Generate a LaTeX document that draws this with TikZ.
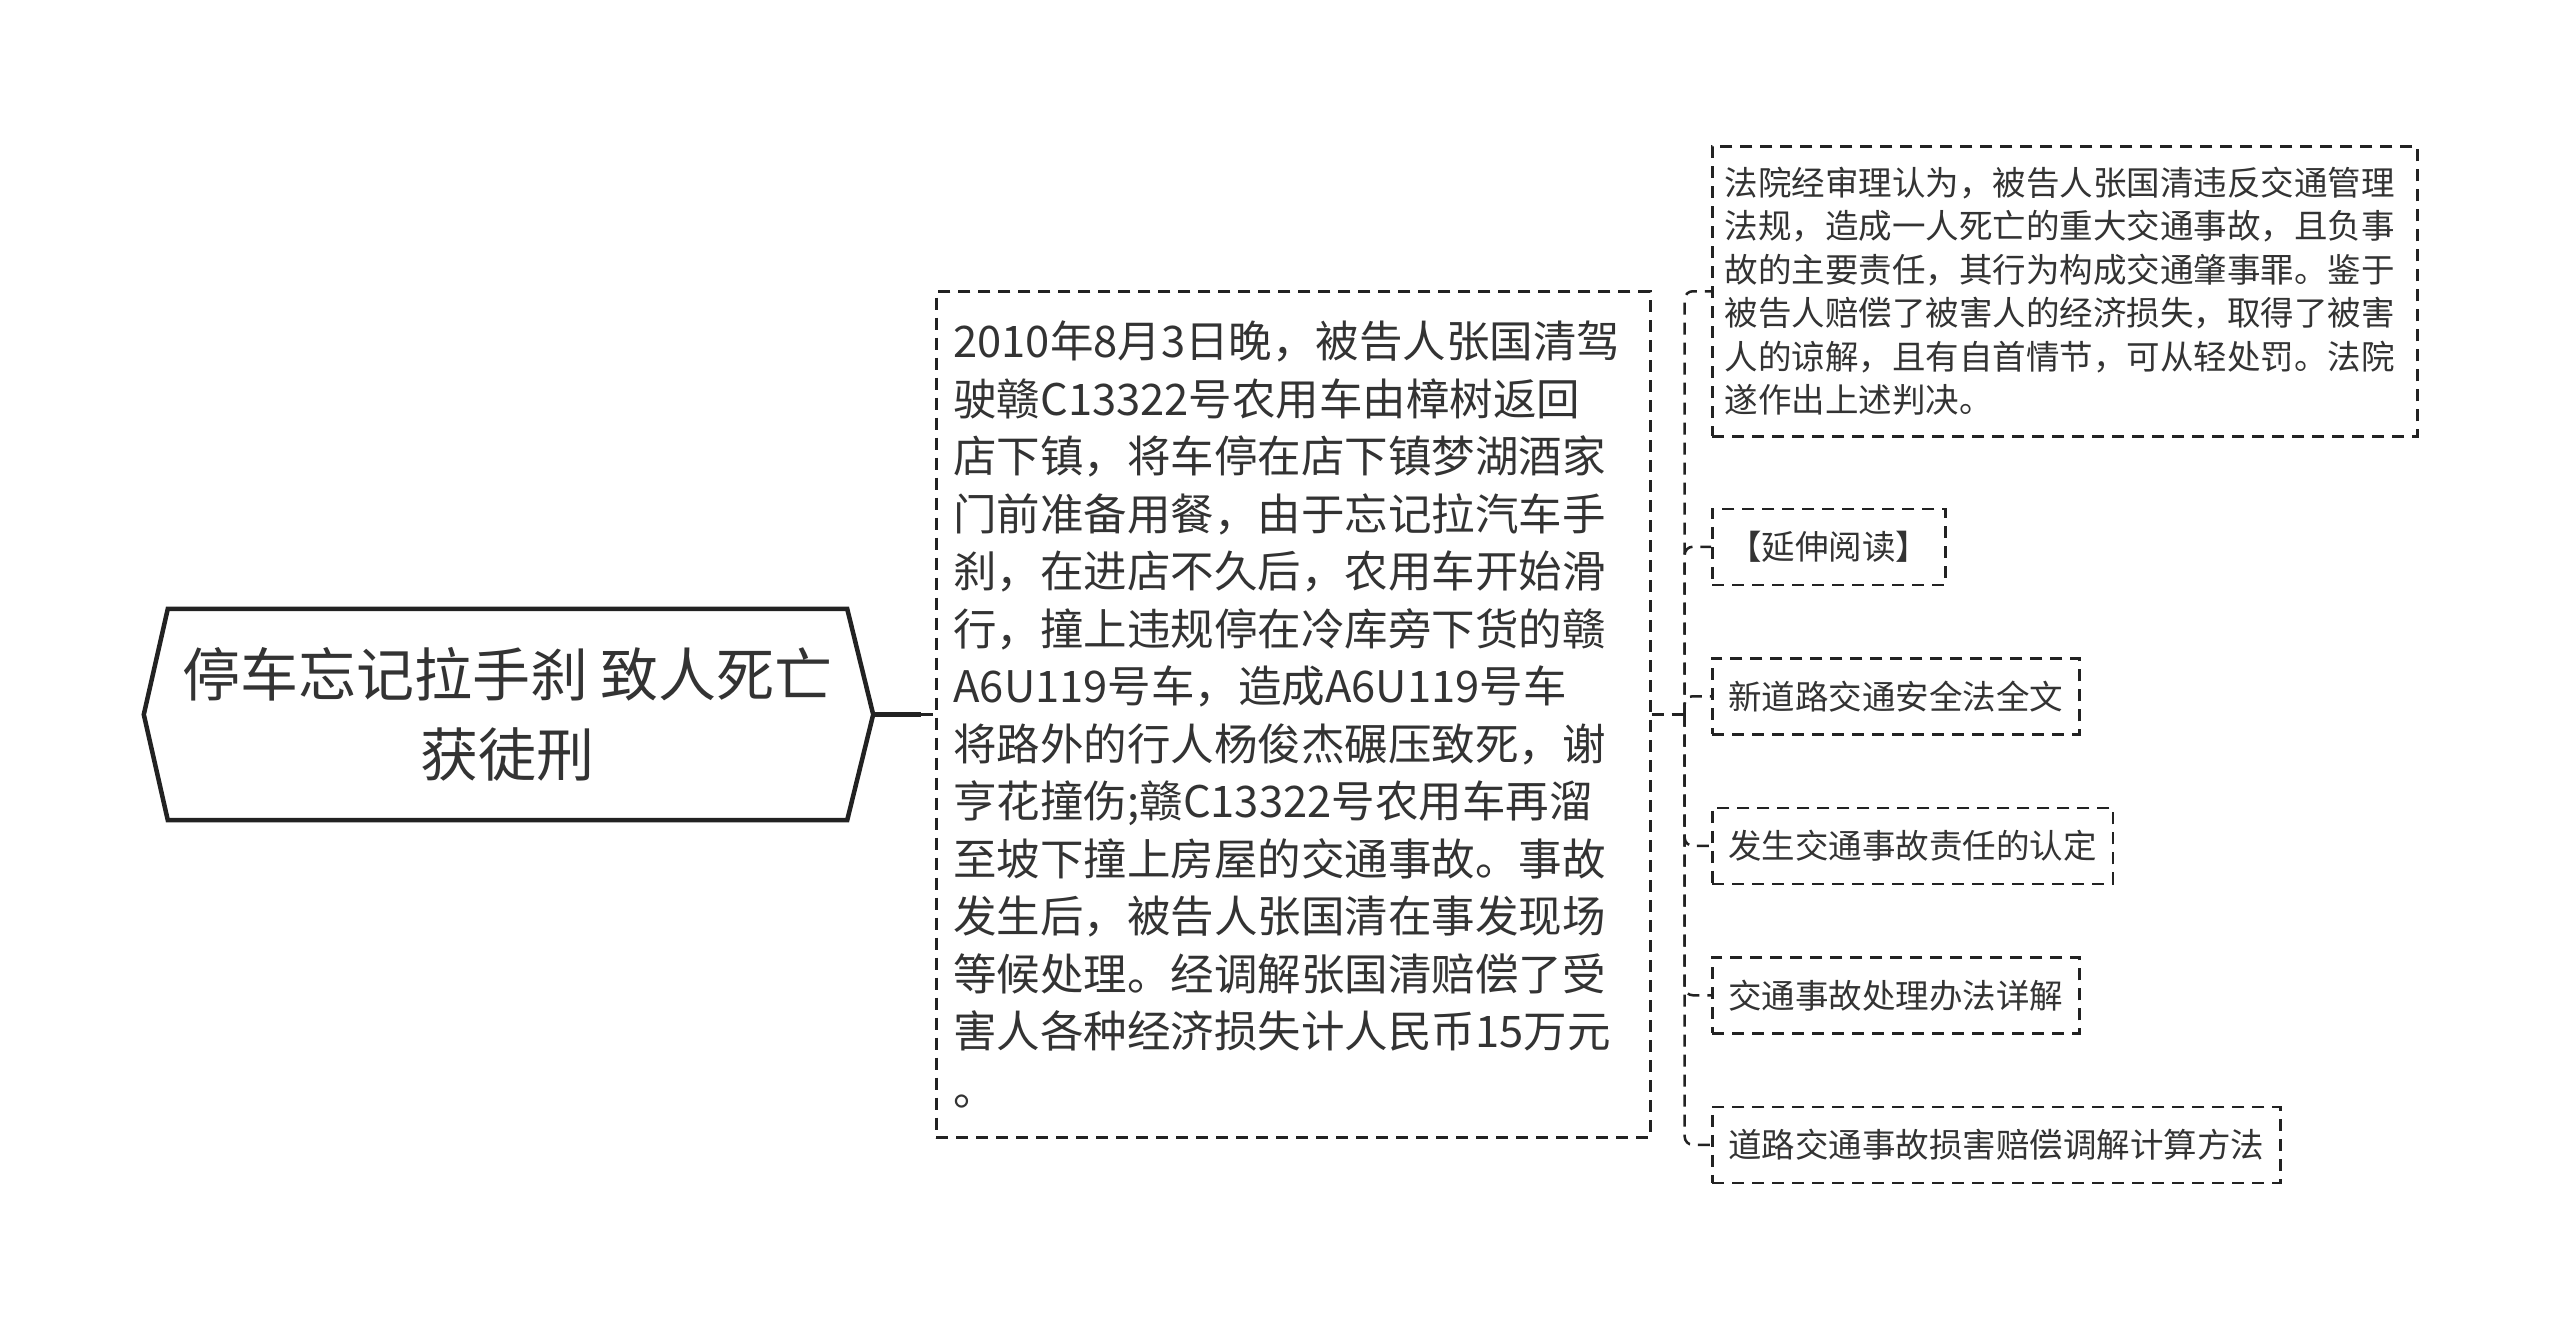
\documentclass[tikz,border=0pt]{standalone}
\usepackage{fontspec}
\setmainfont{Noto Sans CJK SC}
\usetikzlibrary{positioning}
\definecolor{ink}{HTML}{333333}
\definecolor{edge}{HTML}{222222}

\begin{document}
\begin{tikzpicture}[
  x=1pt, y=1pt,
  topic/.style={align=center, minimum width=679pt, minimum height=211pt, inner sep=0pt, text=ink, font=\fontsize{58pt}{80pt}\selectfont},
  rim/.style={draw=edge, line width=4.5pt, line join=miter},
  dashbox/.style={draw=edge, line width=2.5pt, dash pattern=on 12pt off 8pt, text=ink},
  mainbox/.style={dashbox, align=left, text width=680pt, minimum width=714pt, minimum height=846pt, inner xsep=17pt, inner ysep=0pt, font=\fontsize{43.5pt}{57.5pt}\selectfont},
  notebox/.style={dashbox, align=left, text width=680pt, minimum height=290pt, inner xsep=12.5pt, inner ysep=0pt, font=\fontsize{33.5pt}{43.4pt}\selectfont},
  linkbox/.style={dashbox, minimum height=76pt, inner xsep=16pt, inner ysep=0pt, font=\fontsize{33.5pt}{40pt}\selectfont},
  stem/.style={draw=edge, line width=4.5pt},
  link/.style={draw=edge, line width=2.5pt, dash pattern=on 12pt off 8pt, rounded corners=8pt}
]
\useasboundingbox[fill=white] (0,0) rectangle (2560,-1323);
\node[topic] (root) at (507.5,-714.5) {停车忘记拉手刹 致人死亡\\获徒刑};
\draw[rim] (root.north west) -- (root.north east) -- ([xshift=26pt]root.east) -- (root.south east) -- (root.south west) -- ([xshift=-24pt]root.west) -- cycle;
\node[mainbox, right=88pt of root] (main) {2010年8月3日晚，被告人张国清驾\\驶赣C13322号农用车由樟树返回\\店下镇，将车停在店下镇梦湖酒家\\门前准备用餐，由于忘记拉汽车手\\刹，在进店不久后，农用车开始滑\\行，撞上违规停在冷库旁下货的赣\\A6U119号车，造成A6U119号车\\将路外的行人杨俊杰碾压致死，谢\\亨花撞伤;赣C13322号农用车再溜\\至坡下撞上房屋的交通事故。事故\\发生后，被告人张国清在事发现场\\等候处理。经调解张国清赔偿了受\\害人各种经济损失计人民币15万元\\。};
\coordinate (tip) at ([xshift=26pt]root.east);
\coordinate (stub) at ([xshift=-14pt]main.west);
\draw[stem] (tip) -- (stub);
\draw[link] (stub) -- (main.west);
\node[notebox, anchor=north west] (kid1) at (1711,-145) {法院经审理认为，被告人张国清违反交通管理\\法规，造成一人死亡的重大交通事故，且负事\\故的主要责任，其行为构成交通肇事罪。鉴于\\被告人赔偿了被害人的经济损失，取得了被害\\人的谅解，且有自首情节，可从轻处罚。法院\\遂作出上述判决。};
\node[linkbox, below=70pt of kid1.south west, anchor=north west] (kid2) {【延伸阅读】};
\node[linkbox, below=71pt of kid2.south west, anchor=north west] (kid3) {新道路交通安全法全文};
\node[linkbox, below=71pt of kid3.south west, anchor=north west] (kid4) {发生交通事故责任的认定};
\node[linkbox, below=71pt of kid4.south west, anchor=north west] (kid5) {交通事故处理办法详解};
\node[linkbox, below=71pt of kid5.south west, anchor=north west] (kid6) {道路交通事故损害赔偿调解计算方法};
\coordinate (fork) at ([xshift=33pt]main.east);
\draw[link] (main.east) -- (fork);
\foreach \k in {1,...,6}
  \draw[link] (fork) |- (kid\k.west);
\end{tikzpicture}
\end{document}
